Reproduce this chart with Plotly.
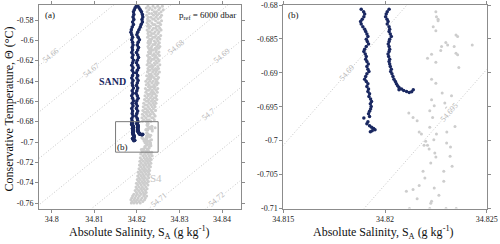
import math
import plotly.graph_objects as go

# ---------------- data ----------------
# SAND: two profiles (A fresher, B saltier), upper part (T shared)
sand_T_upper = [-0.5660, -0.5680, -0.5700, -0.5720, -0.5745, -0.5770, -0.5795, -0.5820, -0.5845, -0.5870,
                -0.5895, -0.5920, -0.5945, -0.5970, -0.5995, -0.6020, -0.6045, -0.6070, -0.6095, -0.6120,
                -0.6145, -0.6170, -0.6195, -0.6220, -0.6245, -0.6270, -0.6295, -0.6320, -0.6345, -0.6370,
                -0.6395, -0.6420, -0.6445, -0.6470, -0.6495, -0.6520, -0.6545, -0.6570, -0.6595, -0.6620,
                -0.6645, -0.6670, -0.6695, -0.6720, -0.6745, -0.6770, -0.6790]
sandA_S_upper = [34.8199, 34.8196, 34.8194, 34.8192, 34.8193, 34.8191, 34.8193, 34.8190, 34.8192, 34.8189,
                 34.8187, 34.8186, 34.8188, 34.8190, 34.8188, 34.8190, 34.8191, 34.8189, 34.8190, 34.8188,
                 34.8191, 34.8189, 34.8192, 34.8190, 34.8188, 34.8191, 34.8189, 34.8192, 34.8190, 34.8188,
                 34.8191, 34.8189, 34.8190, 34.8192, 34.8189, 34.8191, 34.8188, 34.8190, 34.8192, 34.8189,
                 34.8191, 34.8188, 34.8190, 34.8189, 34.8191, 34.8188, 34.8189]
sandB_S_upper = [34.8202, 34.8205, 34.8208, 34.8211, 34.8213, 34.8214, 34.8212, 34.8213, 34.8210, 34.8208,
                 34.8205, 34.8202, 34.8200, 34.8203, 34.8206, 34.8203, 34.8201, 34.8204, 34.8202, 34.8199,
                 34.8202, 34.8204, 34.8201, 34.8199, 34.8202, 34.8204, 34.8201, 34.8199, 34.8202, 34.8200,
                 34.8203, 34.8201, 34.8199, 34.8202, 34.8200, 34.8198, 34.8201, 34.8203, 34.8200, 34.8198,
                 34.8201, 34.8199, 34.8202, 34.8200, 34.8198, 34.8201, 34.8202]

# SAND detailed lower part (as seen in panel b)
sandA_T_fine = [-0.68064, -0.68098, -0.68132, -0.68172, -0.68211, -0.68245, -0.68279, -0.68319, -0.68358, -0.68392,
                -0.68426, -0.68466, -0.68505, -0.68539, -0.68574, -0.68613, -0.68652, -0.68686, -0.68721, -0.68760,
                -0.68799, -0.68833, -0.68868, -0.68907, -0.68946, -0.68980, -0.69015, -0.69054, -0.69093, -0.69127,
                -0.69162, -0.69201, -0.69240, -0.69274, -0.69309, -0.69348, -0.69387, -0.69421, -0.69456, -0.69495,
                -0.69534, -0.69568, -0.69603, -0.69642, -0.69667, -0.69721, -0.69750, -0.69779, -0.69804, -0.69819,
                -0.69838, -0.69853, -0.69867]
sandA_S_fine = [34.81883, 34.81895, 34.81900, 34.81896, 34.81888, 34.81880, 34.81883, 34.81891, 34.81900, 34.81905,
                34.81911, 34.81916, 34.81908, 34.81913, 34.81919, 34.81908, 34.81900, 34.81896, 34.81903, 34.81908,
                34.81905, 34.81911, 34.81918, 34.81911, 34.81916, 34.81921, 34.81911, 34.81905, 34.81900, 34.81908,
                34.81916, 34.81911, 34.81919, 34.81916, 34.81924, 34.81921, 34.81929, 34.81934, 34.81928, 34.81932,
                34.81929, 34.81924, 34.81919, 34.81924, 34.81896, 34.81916, 34.81911, 34.81924, 34.81934, 34.81944,
                34.81951, 34.81937, 34.81928]
sandB_T_fine = [-0.68064, -0.68098, -0.68132, -0.68172, -0.68211, -0.68245, -0.68279, -0.68319, -0.68358, -0.68392,
                -0.68426, -0.68466, -0.68505, -0.68539, -0.68574, -0.68613, -0.68652, -0.68686, -0.68721, -0.68760,
                -0.68799, -0.68833, -0.68868, -0.68907, -0.68946, -0.68980, -0.69015, -0.69054, -0.69093, -0.69127,
                -0.69162, -0.69191, -0.69216, -0.69240, -0.69250, -0.69260, -0.69274, -0.69289, -0.69279, -0.69250]
sandB_S_fine = [34.82020, 34.82011, 34.82006, 34.82003, 34.82010, 34.82015, 34.82011, 34.82020, 34.82023, 34.82020,
                34.82026, 34.82031, 34.82023, 34.82020, 34.82016, 34.82020, 34.82023, 34.82020, 34.82015, 34.82018,
                34.82023, 34.82020, 34.82023, 34.82026, 34.82031, 34.82028, 34.82034, 34.82039, 34.82044, 34.82051,
                34.82056, 34.82062, 34.82069, 34.82081, 34.82069, 34.82092, 34.82106, 34.82119, 34.82131, 34.82139]

# S4 profile: rows of (temperature, salinities) outside the panel-b window
s4_T_rows = [-0.5665, -0.5682, -0.5700, -0.5718, -0.5736, -0.5754, -0.5772, -0.5790, -0.5808, -0.5826,
             -0.5844, -0.5862, -0.5880, -0.5898, -0.5916, -0.5934, -0.5952, -0.5970, -0.5988, -0.6006,
             -0.6024, -0.6042, -0.6060, -0.6078, -0.6096, -0.6114, -0.6132, -0.6150, -0.6168, -0.6186,
             -0.6204, -0.6222, -0.6240, -0.6258, -0.6276, -0.6294, -0.6312, -0.6330, -0.6348, -0.6366,
             -0.6384, -0.6402, -0.6420, -0.6438, -0.6456, -0.6474, -0.6492, -0.6510, -0.6528, -0.6546,
             -0.6564, -0.6582, -0.6600, -0.6618, -0.6636, -0.6654, -0.6672, -0.6690, -0.6708, -0.6726,
             -0.6744, -0.6762, -0.6780, -0.6795,
             -0.7100, -0.7118, -0.7136, -0.7154, -0.7172, -0.7190, -0.7208, -0.7226, -0.7244, -0.7262,
             -0.7280, -0.7298, -0.7316, -0.7334, -0.7352, -0.7370, -0.7388, -0.7406, -0.7424, -0.7442,
             -0.7460, -0.7478, -0.7496, -0.7514, -0.7532, -0.7550, -0.7568, -0.7586, -0.7600]
s4_S_rows = [
    [34.8226, 34.8238, 34.8249, 34.8260], [34.8231, 34.8243, 34.8254, 34.8222], [34.8236, 34.8228, 34.8251, 34.8262],
    [34.8224, 34.8241, 34.8246, 34.8257], [34.8229, 34.8235, 34.8252, 34.8244], [34.8223, 34.8239, 34.8258, 34.8248],
    [34.8233, 34.8227, 34.8245, 34.8255], [34.8225, 34.8240, 34.8250, 34.8237], [34.8230, 34.8244, 34.8258, 34.8226],
    [34.8235, 34.8224, 34.8249, 34.8253], [34.8227, 34.8242, 34.8256, 34.8238], [34.8232, 34.8246, 34.8225, 34.8251],
    [34.8229, 34.8239, 34.8254, 34.8244], [34.8224, 34.8236, 34.8248, 34.8257], [34.8231, 34.8243, 34.8227, 34.8252],
    [34.8226, 34.8240, 34.8250, 34.8235], [34.8233, 34.8228, 34.8245, 34.8256], [34.8225, 34.8238, 34.8251, 34.8242],
    [34.8230, 34.8247, 34.8235, 34.8254], [34.8227, 34.8241, 34.8249, 34.8233], [34.8232, 34.8226, 34.8244, 34.8253],
    [34.8229, 34.8238, 34.8250, 34.8242], [34.8226, 34.8235, 34.8247, 34.8254], [34.8233, 34.8243, 34.8228, 34.8251],
    [34.8230, 34.8239, 34.8246, 34.8236], [34.8227, 34.8245, 34.8252, 34.8233], [34.8232, 34.8240, 34.8229, 34.8249],
    [34.8225, 34.8237, 34.8244, 34.8253], [34.8231, 34.8242, 34.8228, 34.8247], [34.8228, 34.8236, 34.8250, 34.8240],
    [34.8226, 34.8233, 34.8245, 34.8252], [34.8230, 34.8241, 34.8227, 34.8248], [34.8224, 34.8235, 34.8243, 34.8254],
    [34.8229, 34.8238, 34.8249, 34.8232], [34.8226, 34.8244, 34.8236, 34.8251], [34.8231, 34.8228, 34.8240, 34.8247],
    [34.8225, 34.8237, 34.8245, 34.8253], [34.8229, 34.8233, 34.8242, 34.8249], [34.8223, 34.8236, 34.8246, 34.8230],
    [34.8228, 34.8240, 34.8251, 34.8234], [34.8225, 34.8232, 34.8243, 34.8248], [34.8221, 34.8230, 34.8238, 34.8246],
    [34.8226, 34.8235, 34.8244, 34.8250], [34.8222, 34.8229, 34.8240, 34.8247], [34.8227, 34.8233, 34.8237, 34.8243],
    [34.8220, 34.8231, 34.8241, 34.8249], [34.8224, 34.8228, 34.8236, 34.8245], [34.8221, 34.8234, 34.8239, 34.8248],
    [34.8225, 34.8230, 34.8242, 34.8237], [34.8219, 34.8227, 34.8235, 34.8246], [34.8223, 34.8232, 34.8240, 34.8244],
    [34.8218, 34.8228, 34.8237, 34.8247], [34.8222, 34.8226, 34.8234, 34.8242], [34.8216, 34.8229, 34.8238, 34.8245],
    [34.8220, 34.8224, 34.8233, 34.8241], [34.8215, 34.8227, 34.8236, 34.8243], [34.8219, 34.8230, 34.8222, 34.8239],
    [34.8214, 34.8225, 34.8234, 34.8244], [34.8218, 34.8228, 34.8221, 34.8237], [34.8213, 34.8223, 34.8232, 34.8240],
    [34.8217, 34.8226, 34.8230, 34.8243], [34.8212, 34.8221, 34.8235, 34.8238], [34.8216, 34.8224, 34.8229, 34.8241],
    [34.8213, 34.8227, 34.8233, 34.8222],
    [34.8212, 34.8222, 34.8230, 34.8235], [34.8209, 34.8218, 34.8226, 34.8233], [34.8214, 34.8221, 34.8229, 34.8236],
    [34.8208, 34.8217, 34.8224, 34.8231], [34.8211, 34.8220, 34.8227, 34.8234], [34.8207, 34.8215, 34.8223, 34.8230],
    [34.8210, 34.8219, 34.8226, 34.8233], [34.8206, 34.8214, 34.8221, 34.8229], [34.8209, 34.8217, 34.8225, 34.8232],
    [34.8205, 34.8213, 34.8220, 34.8228], [34.8208, 34.8216, 34.8223, 34.8230], [34.8203, 34.8211, 34.8219, 34.8227],
    [34.8206, 34.8214, 34.8222, 34.8229], [34.8202, 34.8210, 34.8217, 34.8226], [34.8205, 34.8213, 34.8220, 34.8228],
    [34.8201, 34.8208, 34.8216, 34.8224], [34.8204, 34.8212, 34.8219, 34.8227], [34.8199, 34.8207, 34.8215, 34.8223],
    [34.8202, 34.8210, 34.8218, 34.8226], [34.8198, 34.8205, 34.8213, 34.8221], [34.8200, 34.8209, 34.8216, 34.8224],
    [34.8196, 34.8204, 34.8212, 34.8220], [34.8199, 34.8207, 34.8215, 34.8222], [34.8193, 34.8201, 34.8210, 34.8218],
    [34.8190, 34.8198, 34.8206, 34.8216, 34.8223], [34.8188, 34.8195, 34.8203, 34.8212, 34.8220],
    [34.8186, 34.8194, 34.8201, 34.8209, 34.8218], [34.8189, 34.8197, 34.8205, 34.8214],
    [34.8187, 34.8193, 34.8200, 34.8208]]

# S4 points inside the panel-b window
s4_T_fine = [-0.68099, -0.68172, -0.68210, -0.68231, -0.68319, -0.68378, -0.68441, -0.68466, -0.68554, -0.68613,
             -0.68588, -0.68613, -0.68588, -0.68672, -0.68725, -0.68784, -0.68710, -0.68735, -0.68843, -0.68922,
             -0.69093, -0.69152, -0.69299, -0.69338, -0.69397, -0.69485, -0.69446, -0.69519,
             -0.69593, -0.69657, -0.69706, -0.69559, -0.69657, -0.69872, -0.69901, -0.69804, -0.69901, -0.69985,
             -0.70010, -0.70069, -0.70069, -0.70122, -0.70181, -0.70240, -0.70328, -0.69872, -0.69790, -0.70034,
             -0.70093, -0.70231, -0.70378, -0.70451, -0.70451, -0.70549, -0.70598, -0.70662, -0.70721, -0.70745,
             -0.70696, -0.70804, -0.70857, -0.70893, -0.70922]
s4_S_fine = [34.82250, 34.82253, 34.82261, 34.82261, 34.82237, 34.82250, 34.82349, 34.82357, 34.82299, 34.82278,
             34.82308, 34.82340, 34.82429, 34.82274, 34.82229, 34.82209, 34.82349, 34.82357, 34.82250, 34.82363,
             34.82229, 34.82250, 34.82281, 34.82327, 34.82229, 34.82242, 34.82294, 34.82303,
             34.82117, 34.82138, 34.82158, 34.82220, 34.82234, 34.82168, 34.82179, 34.82220, 34.82253, 34.82240,
             34.82200, 34.82192, 34.82209, 34.82217, 34.82245, 34.82250, 34.82225, 34.82304, 34.82344, 34.82303,
             34.82322, 34.82320, 34.82330, 34.82187, 34.82289, 34.82196, 34.82289, 34.82168, 34.82138, 34.82105,
             34.82242, 34.82265, 34.82158, 34.82229, 34.82225]

# isopycnal levels (sigma referenced to 6000 dbar) and label temperatures
sig_levels_a = [54.66, 54.67, 54.68, 54.69, 54.70, 54.71, 54.72]
sig_labels_a = ["54.66", "54.67", "54.68", "54.69", "54.7", "54.71", "54.72"]
sig_labelT_a = [-0.6154, -0.6292, -0.6070, -0.6154, -0.6725, -0.7570, -0.7570]
sig_levels_b = [54.69, 54.695]
sig_labels_b = ["54.69", "54.695"]
sig_labelT_b = [-0.6900, -0.6958]

# ticks
xa_ticks = [34.80, 34.81, 34.82, 34.83, 34.84]
xa_text = ["34.8", "34.81", "34.82", "34.83", "34.84"]
ya_ticks = [-0.58, -0.60, -0.62, -0.64, -0.66, -0.68, -0.70, -0.72, -0.74, -0.76]
ya_text = ["-0.58", "-0.6", "-0.62", "-0.64", "-0.66", "-0.68", "-0.7", "-0.72", "-0.74", "-0.76"]
xb_ticks = [34.815, 34.82, 34.825]
xb_text = ["34.815", "34.82", "34.825"]
yb_ticks = [-0.68, -0.685, -0.69, -0.695, -0.70, -0.705, -0.71]
yb_text = ["-0.68", "-0.685", "-0.69", "-0.695", "-0.7", "-0.705", "-0.71"]

# linearised equation of state near the data (sigma_6000)
SIG0, S_0, T_0, A_S, A_T = 54.69, 34.81513, -0.70024, 0.745, 0.219


def iso_S(sig, T):
    return S_0 + (sig - SIG0 + A_T * (T - T_0)) / A_S


# ---------------- layout geometry ----------------
W, H = 500, 244
XA_RANGE = [34.79702, 34.84434]
YA_RANGE = [-0.76541, -0.56525]
XB_RANGE = [34.815, 34.825]
YB_RANGE = [-0.71, -0.68]
XA_DOM = [39 / W, 240.5 / W]
XB_DOM = [283.3 / W, 486.7 / W]
Y_DOM = [1 - 208.5 / H, 1 - 5 / H]

NAVY = "#1a2861"
GREY = "#cdcdcd"
FONT = "Liberation Serif"

sandA_T = sand_T_upper + sandA_T_fine
sandA_S = sandA_S_upper + sandA_S_fine
sandB_T = sand_T_upper + sandB_T_fine
sandB_S = sandB_S_upper + sandB_S_fine
s4_T = [t for t, row in zip(s4_T_rows, s4_S_rows) for _ in row] + s4_T_fine
s4_S = [s for row in s4_S_rows for s in row] + s4_S_fine

fig = go.Figure()


def angle(xr, yr, xd, yd):
    pxS = (xd[1] - xd[0]) * W / (xr[1] - xr[0])
    pxT = (yd[1] - yd[0]) * H / (yr[1] - yr[0])
    return -math.degrees(math.atan(A_S / A_T * pxT / pxS))


ann = []
for panel in ("a", "b"):
    xs, ys = ("x", "y") if panel == "a" else ("x2", "y2")
    levels = sig_levels_a if panel == "a" else sig_levels_b
    labels = sig_labels_a if panel == "a" else sig_labels_b
    labT = sig_labelT_a if panel == "a" else sig_labelT_b
    ang = angle(XA_RANGE, YA_RANGE, XA_DOM, Y_DOM) if panel == "a" else angle(XB_RANGE, YB_RANGE, XB_DOM, Y_DOM)
    for lev in levels:
        Ts = [-0.80, -0.54]
        fig.add_trace(go.Scatter(x=[iso_S(lev, t) for t in Ts], y=Ts, mode="lines", xaxis=xs, yaxis=ys,
                                 line=dict(color="#c4c4c4", width=1, dash="1px,2px"), showlegend=False,
                                 hoverinfo="skip"))
    for lev, txt, t in zip(levels, labels, labT):
        ann.append(dict(x=iso_S(lev, t), y=t, xref=xs, yref=ys, text=txt, showarrow=False,
                        xanchor="center", yanchor="middle",
                        textangle=ang, bgcolor="white", borderpad=0,
                        font=dict(family=FONT, size=8, color="#b4b4b4")))

# panel a
fig.add_trace(go.Scatter(x=s4_S, y=s4_T, mode="markers", xaxis="x", yaxis="y",
                         marker=dict(color=GREY, size=3), showlegend=False))
for S, T in ((sandA_S, sandA_T), (sandB_S, sandB_T)):
    fig.add_trace(go.Scatter(x=S, y=T, mode="lines+markers", xaxis="x", yaxis="y",
                             line=dict(color=NAVY, width=2.2), marker=dict(color=NAVY, size=3.5),
                             showlegend=False))
# panel b
fig.add_trace(go.Scatter(x=s4_S, y=s4_T, mode="markers", xaxis="x2", yaxis="y2",
                         marker=dict(color=GREY, size=3), showlegend=False))
for S, T in ((sandA_S, sandA_T), (sandB_S, sandB_T)):
    fig.add_trace(go.Scatter(x=S, y=T, mode="markers", xaxis="x2", yaxis="y2",
                             marker=dict(color=NAVY, size=3.5), showlegend=False))

axis_common = dict(showline=True, linecolor="#8c8c8c", linewidth=1, mirror="ticks", ticks="outside",
                   ticklen=3, tickcolor="#8c8c8c", showgrid=False, zeroline=False, automargin=False,
                   tickfont=dict(family=FONT, size=8, color="#222"), tickmode="array")

shapes = [dict(type="rect", xref="x", yref="y", x0=XB_RANGE[0], x1=XB_RANGE[1], y0=YB_RANGE[0], y1=YB_RANGE[1],
               line=dict(color="#7a7a7a", width=1))]


def pa(x, y, text, size, color="#111", **kw):
    d = dict(x=x / W, y=1 - y / H, xref="paper", yref="paper", text=text, showarrow=False,
             xanchor="center", yanchor="middle", font=dict(family=FONT, size=size, color=color))
    d.update(kw)
    return d


ann += [
    pa(8, 109.5, "Conservative Temperature, Θ (°C)", 12, textangle=-90),
    pa(139, 232, "Absolute Salinity, S<sub>A</sub> (g kg<sup>-1</sup>)", 12),
    pa(383, 232, "Absolute Salinity, S<sub>A</sub> (g kg<sup>-1</sup>)", 12),
    pa(50, 14.5, "(a)", 9),
    pa(293, 14.5, "(b)", 9),
    pa(122, 147, "(b)", 9),
    pa(238, 15, "p<sub>ref</sub> = 6000 dbar", 9, xanchor="right"),
    pa(112.5, 81.5, "<b>SAND</b>", 10, color=NAVY),
    pa(155.5, 177.5, "S4", 11, color="#c4c4c4"),
]

fig.update_layout(
    width=W, height=H, margin=dict(l=0, r=0, t=0, b=0, autoexpand=False),
    paper_bgcolor="white", plot_bgcolor="white",
    xaxis=dict(domain=XA_DOM, range=XA_RANGE, anchor="y", tickvals=xa_ticks, ticktext=xa_text, **axis_common),
    yaxis=dict(domain=Y_DOM, range=YA_RANGE, anchor="x", tickvals=ya_ticks, ticktext=ya_text, **axis_common),
    xaxis2=dict(domain=XB_DOM, range=XB_RANGE, anchor="y2", tickvals=xb_ticks, ticktext=xb_text, **axis_common),
    yaxis2=dict(domain=Y_DOM, range=YB_RANGE, anchor="x2", tickvals=yb_ticks, ticktext=yb_text, **axis_common),
    shapes=shapes, annotations=ann, showlegend=False,
)

fig.write_html("out.html", config={"displayModeBar": False},
               post_script="document.body.style.margin='0';document.body.style.overflow='hidden';")
